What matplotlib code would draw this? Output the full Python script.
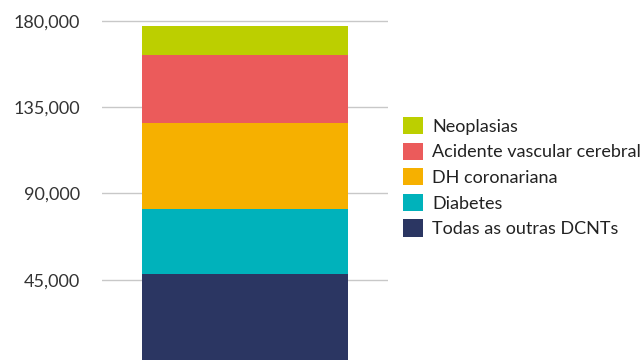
import matplotlib
matplotlib.use("Agg")
import matplotlib.pyplot as plt
from matplotlib.patches import Patch
from matplotlib.ticker import FuncFormatter

plt.rcParams['font.family'] = ['Lato', 'DejaVu Sans']

categories = ["Todas as outras DCNTs", "Diabetes", "DH coronariana",
              "Acidente vascular cerebral", "Neoplasias"]
values = [48000, 33900, 44900, 35500, 15100]
colors = ["#2B3662", "#00B2BB", "#F6B000", "#EB5B5B", "#BCCF00"]
yticks = [45000, 90000, 135000, 180000]

W, H = 641, 360
fig = plt.figure(figsize=(W / 100, H / 100), dpi=100)
ax = fig.add_axes([102 / W, 0, (388 - 102) / W, 1])

bottom = 0
for cat, v, c in zip(categories, values, colors):
    ax.bar(0, v, width=0.72, bottom=bottom, color=c, zorder=3, label=cat)
    bottom += v

ax.set_xlim(-0.5, 0.5)
ax.set_ylim(3080, 190960)
ax.set_yticks(yticks)
ax.yaxis.set_major_formatter(FuncFormatter(lambda v, p: f"{int(v):,}"))
ax.tick_params(axis='y', length=0, pad=16, labelsize=13, labelcolor="#333333")
ax.set_xticks([])
ax.grid(axis='y', color="#c8c8c8", linewidth=1, zorder=0)
for s in ax.spines.values():
    s.set_visible(False)

handles = [Patch(facecolor=c, label=cat) for cat, c in zip(categories, colors)][::-1]
fig.legend(handles=handles, loc='upper left',
           bbox_to_anchor=(403 / W, 1 - 117 / H), frameon=False,
           fontsize=13, handlelength=1.1, handleheight=1.1,
           labelspacing=0.43, handletextpad=0.5, borderpad=0, borderaxespad=0,
           labelcolor="#222222")

fig.savefig("out.png", dpi=100)
